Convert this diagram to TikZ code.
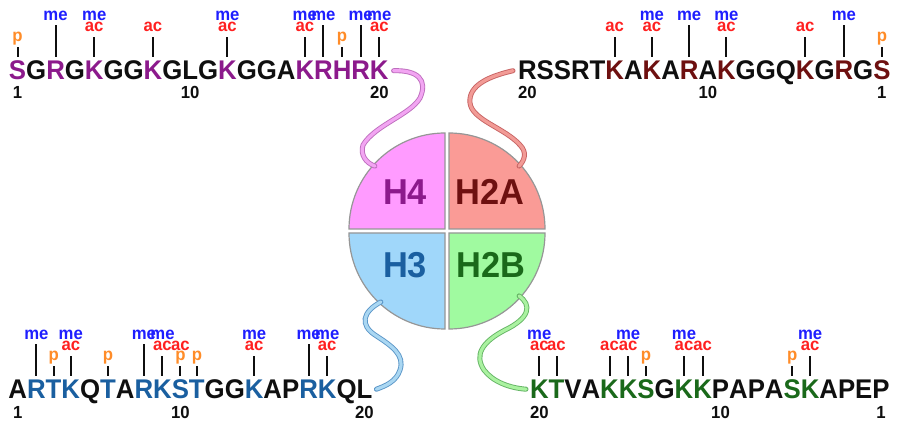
\documentclass[tikz,border=0pt]{standalone}
\usepackage{fontspec}
\newfontfamily\seqf[FakeStretch=0.955]{Liberation Sans}
\usetikzlibrary{calc}
\definecolor{bk}{RGB}{15,15,15}
\definecolor{h4c}{RGB}{140,26,140}
\definecolor{h2ac}{RGB}{110,16,16}
\definecolor{h3c}{RGB}{26,95,160}
\definecolor{h2bc}{RGB}{26,105,26}
\definecolor{mec}{RGB}{30,30,255}
\definecolor{acc}{RGB}{255,32,32}
\definecolor{pc}{RGB}{255,140,40}
\definecolor{q4}{RGB}{255,155,255}
\definecolor{q2a}{RGB}{250,155,150}
\definecolor{q3}{RGB}{160,215,250}
\definecolor{q2b}{RGB}{160,250,160}
\definecolor{qedge}{RGB}{150,150,150}
\definecolor{t4l}{RGB}{242,165,242}
\definecolor{t4d}{RGB}{190,110,190}
\definecolor{t2al}{RGB}{242,155,150}
\definecolor{t2ad}{RGB}{200,100,100}
\definecolor{t3l}{RGB}{170,215,242}
\definecolor{t3d}{RGB}{90,150,200}
\definecolor{t2bl}{RGB}{170,242,160}
\definecolor{t2bd}{RGB}{100,180,100}
\newcommand\seqrow[3]{%
  \node[inner sep=0, outer sep=0, anchor=base west] (#1-0) at #2 {};
  \foreach \l/\c [count=\i] in {#3} {
    \pgfmathtruncatemacro\j{\i-1}
    \node[seqlet, text=\c] (#1-\i) at (#1-\j.base east) {\l};
  }%
}
\begin{document}
\begin{tikzpicture}[x=1pt,y=1pt,
  seqlet/.style={inner sep=0, outer sep=0, anchor=base west, font=\seqf\bfseries\fontsize{27}{30}\selectfont},
  smallf/.style={inner sep=0, outer sep=0, anchor=base, font=\seqf\bfseries\fontsize{17.5}{19}\selectfont},
  melab/.style={smallf, text=mec},
  aclab/.style={smallf, text=acc},
  plab/.style={smallf, text=pc},
  numlab/.style={smallf, text=bk},
  mline/.style={draw=bk, line width=2pt},
  qlab/.style={inner sep=0, anchor=base, font=\seqf\bfseries\fontsize{36}{40}\selectfont},
  quad/.style={draw=qedge, line width=1.2pt},
  tube/.style 2 args={draw=#1, double=#2, line width=0.9pt, double distance=3.2pt, line cap=round}
]
\useasboundingbox (0,0) rectangle (900,429);
\fill[white] (0,0) rectangle (900,429);

% histone core
\coordinate (cen) at (447,198);
\fill[q4] ($(cen)+(-2,2)$) -- ++(180:96) arc[start angle=180, end angle=90, radius=96] -- cycle;
\draw[quad] ($(cen)+(-2,2)$) -- ++(180:96) arc[start angle=180, end angle=90, radius=96] -- cycle;
\fill[q2a] ($(cen)+(2,2)$) -- ++(0:96) arc[start angle=0, end angle=90, radius=96] -- cycle;
\draw[quad] ($(cen)+(2,2)$) -- ++(0:96) arc[start angle=0, end angle=90, radius=96] -- cycle;
\fill[q3] ($(cen)+(-2,-2)$) -- ++(180:96) arc[start angle=180, end angle=270, radius=96] -- cycle;
\draw[quad] ($(cen)+(-2,-2)$) -- ++(180:96) arc[start angle=180, end angle=270, radius=96] -- cycle;
\fill[q2b] ($(cen)+(2,-2)$) -- ++(0:96) arc[start angle=0, end angle=-90, radius=96] -- cycle;
\draw[quad] ($(cen)+(2,-2)$) -- ++(0:96) arc[start angle=0, end angle=-90, radius=96] -- cycle;
\node[qlab, text=h4c] (lh4) at (405,224) {H4};
\node[qlab, text=h2ac] (lh2a) at (490,224) {H2A};
\node[qlab, text=h3c] (lh3) at (405,151) {H3};
\node[qlab, text=h2bc] (lh2b) at (491,151) {H2B};
\coordinate (e4) at ($(cen)+(138:97)$);
\coordinate (e2a) at ($(cen)+(42:97)$);
\coordinate (e3) at ($(cen)+(227:97)$);
\coordinate (e2b) at ($(cen)+(318:97)$);

% sequences
\seqrow{h4}{(8,349)}{S/h4c,G/bk,R/h4c,G/bk,K/h4c,G/bk,G/bk,K/h4c,G/bk,L/bk,G/bk,K/h4c,G/bk,G/bk,A/bk,K/h4c,R/h4c,H/h4c,R/h4c,K/h4c}
\seqrow{h2a}{(517,349)}{R/bk,S/bk,S/bk,R/bk,T/bk,K/h2ac,A/bk,K/h2ac,A/bk,R/h2ac,A/bk,K/h2ac,G/bk,G/bk,Q/bk,K/h2ac,G/bk,R/h2ac,G/bk,S/h2ac}
\seqrow{h3}{(7.5,30.5)}{A/bk,R/h3c,T/h3c,K/h3c,Q/bk,T/h3c,A/bk,R/h3c,K/h3c,S/h3c,T/h3c,G/bk,G/bk,K/h3c,A/bk,P/bk,R/h3c,K/h3c,Q/bk,L/bk}
\seqrow{h2b}{(529,30.5)}{K/h2bc,T/h2bc,V/bk,A/bk,K/h2bc,K/h2bc,S/h2bc,G/bk,K/h2bc,K/h2bc,P/bk,A/bk,P/bk,A/bk,S/h2bc,K/h2bc,A/bk,P/bk,E/bk,P/bk}

% tails
\draw[tube={t4d}{t4l}] ([xshift=5pt]h4-20.east) .. controls (418,359) and (428,349) .. (420,331)
  .. controls (410,314) and (375,304) .. (363,284) .. controls (360,274) and (366,266) .. (e4);
\draw[tube={t2ad}{t2al}] ([xshift=-5pt]h2a-1.west) .. controls (490,353) and (468,344) .. (470,326)
  .. controls (472,309) and (505,301) .. (520,284) .. controls (527,277) and (525,269) .. (e2a);
\draw[tube={t3d}{t3l}] (e3) .. controls (362,117) and (360,104) .. (375,94)
  .. controls (392,83) and (405,74) .. (400,59) .. controls (396,47) and (385,43) .. ([xshift=4pt]h3-20.east);
\draw[tube={t2bd}{t2bl}] (e2b) .. controls (532,124) and (530,111) .. (505,99)
  .. controls (482,87) and (474,74) .. (484,59) .. controls (493,47) and (510,41) .. ([xshift=-4pt]h2b-1.west);

% mark lines
\foreach \k in {3,17,19} \draw[mline] ([yshift=23pt]h4-\k.base) -- ++(0,32);
\foreach \k in {5,8,12,16,20} \draw[mline] ([yshift=23pt]h4-\k.base) -- ++(0,20);
\foreach \k in {1,18} \draw[mline] ([yshift=23pt]h4-\k.base) -- ++(0,10);
\foreach \k in {10,18} \draw[mline] ([yshift=23pt]h2a-\k.base) -- ++(0,32);
\foreach \k in {6,8,12,16} \draw[mline] ([yshift=23pt]h2a-\k.base) -- ++(0,20);
\foreach \k in {20} \draw[mline] ([yshift=23pt]h2a-\k.base) -- ++(0,10);
\foreach \k in {2,8,17} \draw[mline] ([yshift=23pt]h3-\k.base) -- ++(0,32);
\foreach \k in {4,9,14,18} \draw[mline] ([yshift=23pt]h3-\k.base) -- ++(0,20);
\foreach \k in {3,6,10,11} \draw[mline] ([yshift=23pt]h3-\k.base) -- ++(0,10);
\foreach \k in {1,2,5,6,9,10,16} \draw[mline] ([yshift=23pt]h2b-\k.base) -- ++(0,20);
\foreach \k in {7,15} \draw[mline] ([yshift=23pt]h2b-\k.base) -- ++(0,10);

% mark labels
\foreach \k in {3,5,12,16,17,19,20} \node[melab] (h4-me\k) at ([yshift=59pt]h4-\k.base) {me};
\foreach \k in {5,8,12,16,20} \node[aclab] (h4-ac\k) at ([yshift=48.5pt]h4-\k.base) {ac};
\foreach \k in {1,18} \node[plab] (h4-p\k) at ([yshift=38.5pt]h4-\k.base) {p};
\foreach \k in {8,10,12,18} \node[melab] (h2a-me\k) at ([yshift=59pt]h2a-\k.base) {me};
\foreach \k in {6,8,12,16} \node[aclab] (h2a-ac\k) at ([yshift=48.5pt]h2a-\k.base) {ac};
\foreach \k in {20} \node[plab] (h2a-p\k) at ([yshift=38.5pt]h2a-\k.base) {p};
\foreach \k in {2,4,8,9,14,17,18} \node[melab] (h3-me\k) at ([yshift=59pt]h3-\k.base) {me};
\foreach \k in {4,9,10,14,18} \node[aclab] (h3-ac\k) at ([yshift=48.5pt]h3-\k.base) {ac};
\foreach \k in {3,6,10,11} \node[plab] (h3-p\k) at ([yshift=38.5pt]h3-\k.base) {p};
\foreach \k in {1,6,9,16} \node[melab] (h2b-me\k) at ([yshift=59pt]h2b-\k.base) {me};
\foreach \k in {1,2,5,6,9,10,16} \node[aclab] (h2b-ac\k) at ([yshift=48.5pt]h2b-\k.base) {ac};
\foreach \k in {7,15} \node[plab] (h2b-p\k) at ([yshift=38.5pt]h2b-\k.base) {p};

% residue numbers
\node[numlab] (h4-n1) at ([yshift=-19pt]h4-1.base) {1};
\node[numlab] (h4-n10) at ([yshift=-19pt]h4-10.base) {10};
\node[numlab] (h4-n20) at ([yshift=-19pt]h4-20.base) {20};
\node[numlab] (h2a-n20) at ([yshift=-19pt]h2a-1.base) {20};
\node[numlab] (h2a-n10) at ([yshift=-19pt]h2a-11.base) {10};
\node[numlab] (h2a-n1) at ([yshift=-19pt]h2a-20.base) {1};
\node[numlab] (h3-n1) at ([yshift=-20pt]h3-1.base) {1};
\node[numlab] (h3-n10) at ([yshift=-20pt]h3-10.base) {10};
\node[numlab] (h3-n20) at ([yshift=-20pt]h3-20.base) {20};
\node[numlab] (h2b-n20) at ([yshift=-20pt]h2b-1.base) {20};
\node[numlab] (h2b-n10) at ([yshift=-20pt]h2b-11.base) {10};
\node[numlab] (h2b-n1) at ([yshift=-20pt]h2b-20.base) {1};
\end{tikzpicture}
\end{document}
